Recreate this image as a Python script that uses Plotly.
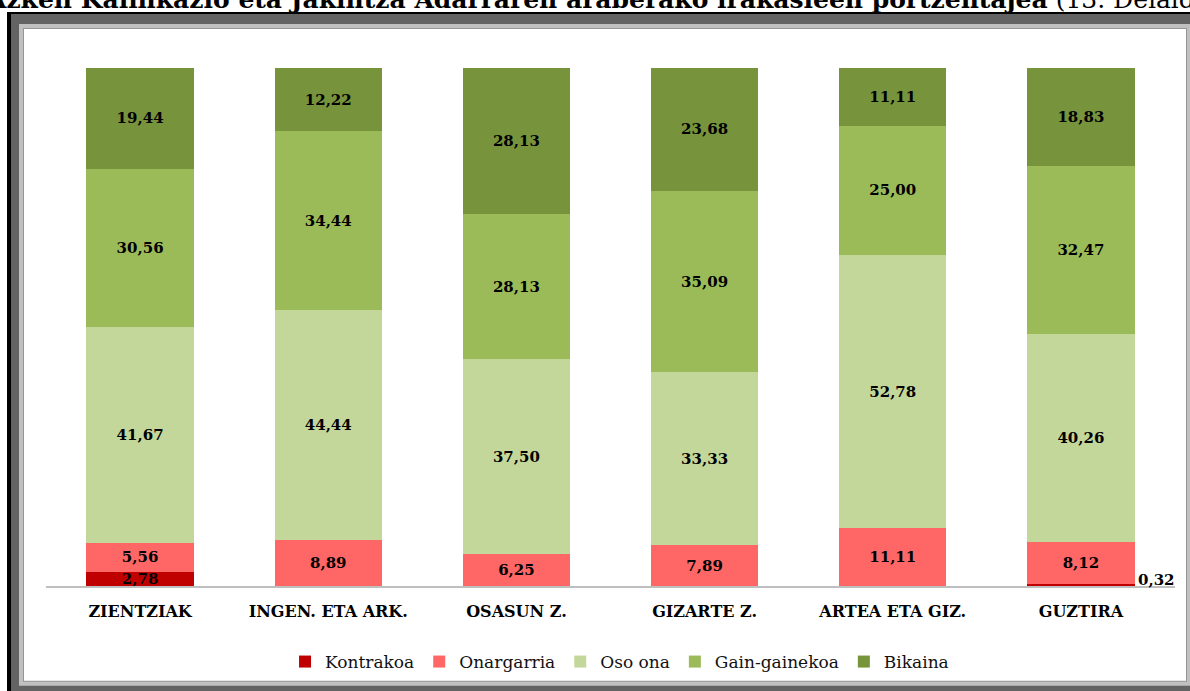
import plotly.graph_objects as go

categories = ["ZIENTZIAK", "INGEN. ETA ARK.", "OSASUN Z.", "GIZARTE Z.", "ARTEA ETA GIZ.", "GUZTIRA"]
kontrakoa = [2.78, 0, 0, 0, 0, 0.32]
onargarria = [5.56, 8.89, 6.25, 7.89, 11.11, 8.12]
oso_ona = [41.67, 44.44, 37.50, 33.33, 52.78, 40.26]
gain_gainekoa = [30.56, 34.44, 28.13, 35.09, 25.00, 32.47]
bikaina = [19.44, 12.22, 28.13, 23.68, 11.11, 18.83]

series = [
    ("Kontrakoa", kontrakoa, "#c00000"),
    ("Onargarria", onargarria, "#ff6666"),
    ("Oso ona", oso_ona, "#c4d79b"),
    ("Gain-gainekoa", gain_gainekoa, "#9bbb59"),
    ("Bikaina", bikaina, "#77933c"),
]

FONT = "DejaVu Serif"

def fmt(v):
    return f"{v:.2f}".replace(".", ",")

fig = go.Figure()
for name, vals, color in series:
    texts = []
    for i, v in enumerate(vals):
        if v == 0 or (name == "Kontrakoa" and v < 1):
            texts.append("")
        else:
            texts.append(fmt(v))
    fig.add_trace(go.Bar(
        name=name, x=categories, y=vals, marker=dict(color=color, line=dict(width=0)),
        text=texts, textposition="inside", insidetextanchor="middle",
        textangle=0, constraintext="none",
        textfont=dict(family=FONT, size=15, color="black", weight="bold"),
        hoverinfo="skip",
    ))

# small value label outside the last bar
for i, v in enumerate(kontrakoa):
    if 0 < v < 1:
        fig.add_annotation(x=categories[i], y=v, xref="x", yref="y", text=fmt(v),
                           showarrow=False, xanchor="left", yanchor="bottom",
                           xshift=55, yshift=-7,
                           font=dict(family=FONT, size=15, color="black", weight="bold"))

L, R, T, B = 46, 1175, 68, 587
W, H = R - L, B - T

def px(x):
    return (x - L) / W

def py(y):
    return (B - y) / H

shapes = []
def rect(x0, y0, x1, y1, color):
    shapes.append(dict(type="rect", xref="paper", yref="paper", layer="below",
                       x0=px(x0), x1=px(x1), y0=py(y1), y1=py(y0),
                       fillcolor=color, line=dict(width=0)))

rect(7, 12, 1200, 700, "#000000")
rect(11, 14, 1200, 700, "#636363")
rect(19, 24, 1190, 687, "#c0c0c0")
rect(23, 28, 1187, 683, "#969696")
rect(24, 29, 1186, 682, "#ffffff")

fig.add_annotation(
    xref="paper", yref="paper", x=px(-16), y=py(16), xanchor="left", yanchor="bottom",
    text="<b>Azken Kalifikazio eta Jakintza Adarraren araberako irakasleen portzentajea</b> (13. Deialdia)",
    showarrow=False, font=dict(family=FONT, size=25, color="black"),
)

fig.update_layout(
    barmode="stack", bargap=0.43,
    width=1190, height=691,
    margin=dict(l=L, r=1190 - R, t=T, b=691 - B, pad=0),
    paper_bgcolor="white", plot_bgcolor="rgba(0,0,0,0)",
    shapes=shapes,
    showlegend=True,
    legend=dict(orientation="h", x=0.508, xanchor="center", y=py(662), yanchor="middle",
                font=dict(family=FONT, size=17, color="#111111"), bgcolor="rgba(0,0,0,0)",
                traceorder="normal"),
    uniformtext=dict(mode=False),
)
fig.update_xaxes(showline=True, linecolor="#bfbfbf", linewidth=2, ticks="",
                 tickfont=dict(family=FONT, size=16, color="black", weight="bold"),
                 ticklabelstandoff=10, showgrid=False, range=[-0.5, 5.5], fixedrange=True)
fig.update_yaxes(range=[0, 100], showticklabels=False, showgrid=False, zeroline=False,
                 showline=False, ticks="", fixedrange=True)

fig.write_html("out.html", config={"displayModeBar": False},
               post_script="document.body.style.margin='0';document.body.style.overflow='hidden';")
